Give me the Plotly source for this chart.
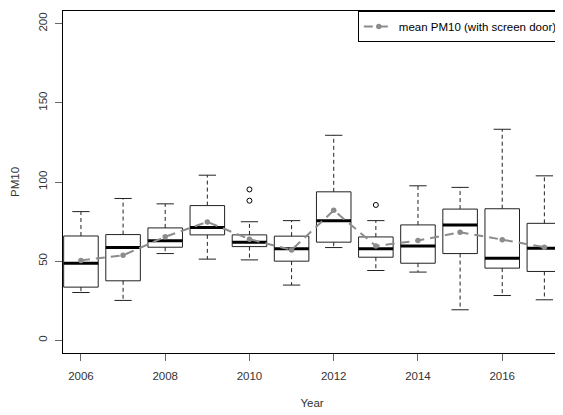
import plotly.graph_objects as go

years = [2006, 2007, 2008, 2009, 2010, 2011, 2012, 2013, 2014, 2015, 2016, 2017]
lower = [30.2, 25.2, 54.8, 51.3, 50.8, 34.9, 58.6, 44.1, 43.1, 19.3, 28.3, 25.6]
q1 = [33.6, 37.6, 58.8, 66.6, 59.2, 50.0, 62.0, 52.5, 48.7, 54.8, 45.6, 43.5]
median = [48.7, 58.6, 62.9, 71.3, 62.0, 57.9, 75.6, 57.9, 59.6, 72.9, 51.9, 58.2]
q3 = [65.9, 66.8, 71.0, 85.1, 66.6, 65.8, 93.8, 65.3, 72.9, 82.9, 83.1, 73.9]
upper = [81.3, 89.6, 86.2, 104.3, 74.9, 75.6, 129.5, 75.6, 97.6, 96.6, 133.3, 103.9]
means = [50.5, 53.7, 65.4, 74.8, 63.9, 57.1, 82.1, 59.6, 63.0, 68.3, 63.6, 58.8]
out_x = [2010, 2010, 2013]
out_y = [95.3, 88.2, 85.5]
xticks = [2006, 2008, 2010, 2012, 2014, 2016]
yticks = [0, 50, 100, 150, 200]

HB = 0.41   # half box width (years)
HC = 0.205  # half cap width

wx, wy, cx, cy, bx, by, mx, my = [], [], [], [], [], [], [], []
for i, yr in enumerate(years):
    wx += [yr, yr, None, yr, yr, None]
    wy += [q3[i], upper[i], None, q1[i], lower[i], None]
    cx += [yr - HC, yr + HC, None, yr - HC, yr + HC, None]
    cy += [upper[i], upper[i], None, lower[i], lower[i], None]
    bx += [yr - HB, yr + HB, yr + HB, yr - HB, yr - HB, None]
    by += [q1[i], q1[i], q3[i], q3[i], q1[i], None]
    mx += [yr - HB, yr + HB, None]
    my += [median[i], median[i], None]

fig = go.Figure()
fig.add_trace(go.Scatter(x=wx, y=wy, mode="lines", line=dict(color="#222", width=1, dash="4px,3px"),
                         showlegend=False, hoverinfo="skip"))
fig.add_trace(go.Scatter(x=cx, y=cy, mode="lines", line=dict(color="#222", width=1),
                         showlegend=False, hoverinfo="skip"))
fig.add_trace(go.Scatter(x=bx, y=by, mode="lines", line=dict(color="#222", width=1),
                         showlegend=False, hoverinfo="skip"))
fig.add_trace(go.Scatter(x=mx, y=my, mode="lines", line=dict(color="black", width=3),
                         showlegend=False, hoverinfo="skip"))
fig.add_trace(go.Scatter(x=out_x, y=out_y, mode="markers",
                         marker=dict(symbol="circle-open", size=5, color="black", line=dict(width=1)),
                         showlegend=False, hoverinfo="skip"))
fig.add_trace(go.Scatter(x=years, y=means, mode="lines+markers", name="mean PM10 (with screen door)",
                         line=dict(color="#8c8c8c", width=2, dash="9px,6px"),
                         marker=dict(symbol="circle", size=5.5, color="#8c8c8c")))

font_col = "#333333"
fig.update_layout(
    width=555, height=407,
    margin=dict(l=55, r=0, t=3, b=62),
    plot_bgcolor="white", paper_bgcolor="white",
    font=dict(family="Liberation Sans, Arial, sans-serif", size=11.5, color=font_col),
    showlegend=True,
    legend=dict(x=0.592, xanchor="left", y=1, yanchor="top", bgcolor="white",
                bordercolor="black", borderwidth=1, font=dict(size=11.5, color="black"),
                itemwidth=30),
    xaxis=dict(range=[2005.574, 2017.395], tickmode="array", tickvals=xticks,
               ticktext=[str(t) for t in xticks], showgrid=False, zeroline=False,
               showline=True, linecolor="black", linewidth=1, mirror=True,
               ticks="outside", ticklen=7, tickcolor="#666", tickwidth=1, automargin=False,
               ticklabelstandoff=5,
               title=dict(text="Year", standoff=18, font=dict(size=11.5, color=font_col))),
    yaxis=dict(range=[-8, 208], tickmode="array", tickvals=yticks,
               ticktext=[str(t) for t in yticks], tickangle=-90, showgrid=False, zeroline=False,
               showline=True, linecolor="black", linewidth=1, mirror=False,
               ticks="outside", ticklen=7, tickcolor="#666", tickwidth=1, automargin=False,
               ticklabelstandoff=3,
               title=dict(text="PM10", standoff=15, font=dict(size=11.5, color=font_col))),
)
fig.write_html("out.html")
